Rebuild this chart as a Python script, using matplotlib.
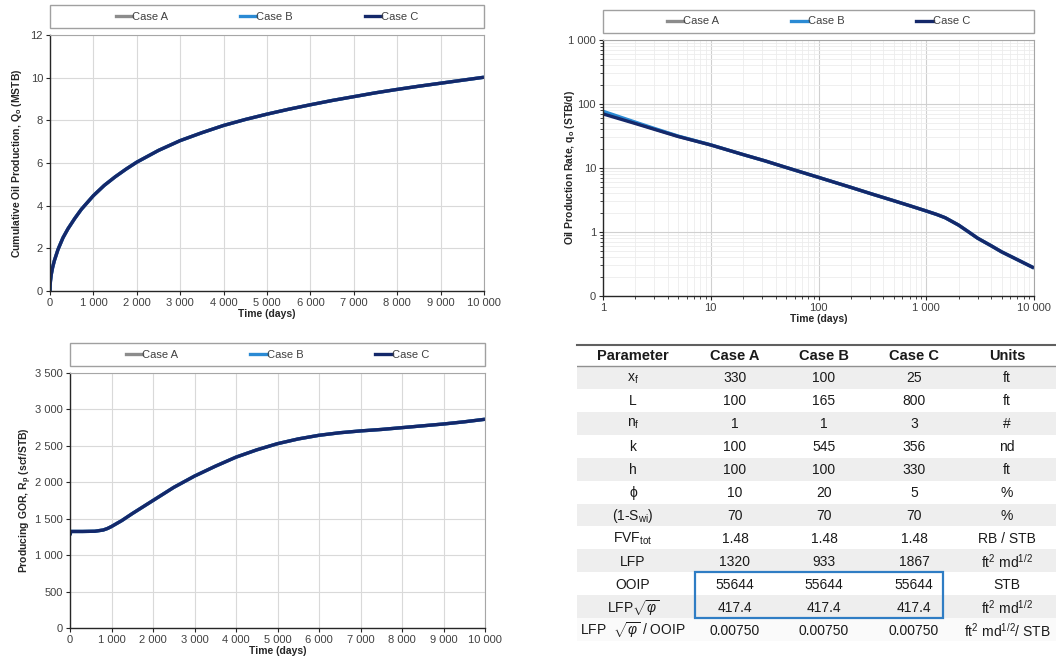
import matplotlib
matplotlib.use("Agg")
import matplotlib.pyplot as plt
import numpy as np
from matplotlib.patches import Rectangle
from matplotlib.ticker import FixedLocator, FuncFormatter, NullFormatter, LogLocator

plt.rcParams["font.family"] = ["Liberation Sans", "DejaVu Sans"]
plt.rcParams["mathtext.fontset"] = "custom"
plt.rcParams["mathtext.rm"] = "Liberation Sans"
plt.rcParams["mathtext.it"] = "Liberation Sans:italic"
plt.rcParams["mathtext.bf"] = "Liberation Sans:bold"

# ---- data ----
cases = ["Case A", "Case B", "Case C"]
case_colors = ["#8c8c8c", "#2a8ad4", "#14286a"]

# cumulative oil production (MSTB)
t_cum = [0, 3, 10, 30, 60, 100, 185, 300, 415, 570, 723, 1000, 1250, 1500, 1750, 2000,
         2500, 3000, 3500, 4000, 4500, 5000, 5500, 6000, 6500, 7000, 7500, 8000, 8500,
         9000, 9500, 10000]
q_cum_c = [0.0, 0.25, 0.45, 0.78, 1.1, 1.42, 1.95, 2.5, 2.92, 3.4, 3.83, 4.47, 4.95,
           5.35, 5.71, 6.04, 6.59, 7.05, 7.42, 7.76, 8.04, 8.29, 8.52, 8.73, 8.93, 9.11,
           9.29, 9.45, 9.60, 9.74, 9.88, 10.02]
q_cum_b = [0.0, 0.27, 0.46, 0.79, 1.1, 1.42, 1.95, 2.5, 2.92, 3.4, 3.83, 4.47, 4.95,
           5.35, 5.71, 6.04, 6.59, 7.05, 7.42, 7.76, 8.04, 8.29, 8.52, 8.73, 8.93, 9.11,
           9.29, 9.45, 9.60, 9.74, 9.88, 10.02]
q_cum_a = q_cum_c

# oil production rate (STB/d), log-log
t_rate = [1, 2, 3, 5, 10, 20, 32, 50, 100, 200, 312, 500, 700, 1000, 1250, 1500, 2000,
          2500, 3000, 4000, 5000, 7000, 10000]
q_rate_c = [70, 49.5, 40.2, 31.0, 22.9, 16.2, 12.9, 10.2, 7.14, 4.98, 3.93, 3.08, 2.58,
            2.13, 1.88, 1.67, 1.28, 0.99, 0.80, 0.61, 0.49, 0.37, 0.274]
q_rate_b = [77, 52, 41.5, 31.5, 23.0, 16.2, 12.9, 10.2, 7.14, 4.98, 3.93, 3.08, 2.58,
            2.13, 1.88, 1.67, 1.28, 0.99, 0.80, 0.61, 0.49, 0.37, 0.274]
q_rate_a = [73, 50.5, 40.8, 31.2, 22.9, 16.2, 12.9, 10.2, 7.14, 4.98, 3.93, 3.08, 2.58,
            2.13, 1.88, 1.67, 1.28, 0.99, 0.80, 0.61, 0.49, 0.37, 0.274]

# producing GOR (scf/STB)
t_gor = [0, 20, 300, 600, 800, 900, 1000, 1250, 1500, 1750, 2000, 2500, 3000, 3500, 4000,
         4500, 5000, 5500, 6000, 6500, 7000, 7500, 8000, 8500, 9000, 9500, 10000]
gor_c = [1275, 1325, 1325, 1328, 1345, 1365, 1393, 1475, 1570, 1660, 1750, 1930, 2085,
         2220, 2345, 2445, 2530, 2595, 2645, 2680, 2705, 2725, 2750, 2775, 2800, 2830, 2865]
gor_b = gor_c
gor_a = gor_c

# table
tbl_header = ["Parameter", "Case A", "Case B", "Case C", "Units"]
tbl_params = [r"x$_\mathrm{f}$", "L", r"n$_\mathrm{f}$", "k", "h", "\u03d5",
              r"(1-S$_\mathrm{wi}$)", r"FVF$_\mathrm{tot}$", "LFP", "OOIP",
              r"LFP$\sqrt{\varphi}$", r"LFP  $\sqrt{\varphi}$ / OOIP"]
tbl_case_a = ["330", "100", "1", "100", "100", "10", "70", "1.48", "1320", "55644", "417.4", "0.00750"]
tbl_case_b = ["100", "165", "1", "545", "100", "20", "70", "1.48", "933", "55644", "417.4", "0.00750"]
tbl_case_c = ["25", "800", "3", "356", "330", "5", "70", "1.48", "1867", "55644", "417.4", "0.00750"]
tbl_units = ["ft", "ft", "#", "nd", "ft", "%", "%", "RB / STB", r"ft$^2$ md$^{1/2}$", "STB",
             r"ft$^2$ md$^{1/2}$", r"ft$^2$ md$^{1/2}$/ STB"]

W, H = 1056, 663
fig = plt.figure(figsize=(W / 100, H / 100), dpi=100)


def add_px_axes(x0, x1, y0, y1):
    return fig.add_axes([x0 / W, 1 - y1 / H, (x1 - x0) / W, (y1 - y0) / H])


def space_thousands(v, pos=None):
    return f"{v:,.0f}".replace(",", " ")


def style_axes(ax):
    for s in ["top", "right"]:
        ax.spines[s].set_color("#a6a6a6")
        ax.spines[s].set_linewidth(0.8)
    for s in ["left", "bottom"]:
        ax.spines[s].set_color("#262626")
        ax.spines[s].set_linewidth(1.0)
    ax.tick_params(axis="both", which="major", labelsize=8, colors="#262626",
                   labelcolor="#404040", length=3, width=0.8, pad=2)
    ax.set_axisbelow(True)


def add_legend(ax, y0, y1):
    # frame spanning the axes width, above the plot area
    pos = ax.get_position()
    fx0 = pos.x0
    fw = pos.width
    fig.patches.append(Rectangle((fx0, 1 - y1 / H), fw, (y1 - y0) / H,
                                 transform=fig.transFigure, facecolor="white",
                                 edgecolor="#a0a0a0", linewidth=1.0))
    handles = [plt.Line2D([], [], color=c, lw=2.4) for c in case_colors]
    fig.legend(handles, cases, loc="center", ncol=3, frameon=False,
               bbox_to_anchor=(fx0 + fw * 0.5, 1 - (y0 + y1) / 2 / H),
               fontsize=8, handlelength=1.45, handletextpad=0.0,
               columnspacing=6.5, labelcolor="#404040")


def set_labels(ax, ylabel, ylab_x):
    ax.set_xlabel("Time (days)", fontsize=7.5, fontweight="bold", labelpad=1, color="#262626")
    ax.set_ylabel(ylabel, fontsize=7.5, fontweight="bold", color="#262626")
    ax.yaxis.set_label_coords(ylab_x, 0.5)


# ---- cumulative oil ----
ax1 = add_px_axes(50, 484, 35, 291)
style_axes(ax1)
for t, q, c in [(t_cum, q_cum_a, case_colors[0]), (t_cum, q_cum_b, case_colors[1]),
                (t_cum, q_cum_c, case_colors[2])]:
    ax1.plot(t, q, color=c, lw=2.4, solid_capstyle="butt")
ax1.set_xlim(0, 10000)
ax1.set_ylim(0, 12)
ax1.set_xticks(np.arange(0, 10001, 1000))
ax1.set_yticks(np.arange(0, 13, 2))
ax1.xaxis.set_major_formatter(FuncFormatter(space_thousands))
ax1.grid(True, color="#d9d9d9", lw=0.8)
set_labels(ax1, r"Cumulative Oil Production, Q$_\mathbf{o}$ (MSTB)", -0.06)
add_legend(ax1, 5, 28)

# ---- oil rate, log-log ----
ax2 = add_px_axes(603, 1034, 40, 296)
style_axes(ax2)
ax2.set_xscale("log")
ax2.set_yscale("log")
for t, q, c in [(t_rate, q_rate_a, case_colors[0]), (t_rate, q_rate_b, case_colors[1]),
                (t_rate, q_rate_c, case_colors[2])]:
    ax2.plot(t, q, color=c, lw=2.4, solid_capstyle="butt")
ax2.set_xlim(1, 10000)
ax2.set_ylim(0.1, 1000)
ax2.xaxis.set_major_locator(FixedLocator([1, 10, 100, 1000, 10000]))
ax2.yaxis.set_major_locator(FixedLocator([0.1, 1, 10, 100, 1000]))
ax2.xaxis.set_minor_locator(LogLocator(base=10, subs=np.arange(2, 10)))
ax2.yaxis.set_minor_locator(LogLocator(base=10, subs=np.arange(2, 10)))
ax2.xaxis.set_minor_formatter(NullFormatter())
ax2.yaxis.set_minor_formatter(NullFormatter())
ax2.xaxis.set_major_formatter(FuncFormatter(space_thousands))
ax2.yaxis.set_major_formatter(FuncFormatter(space_thousands))
ax2.tick_params(which="minor", length=2, width=0.6, colors="#262626")
ax2.grid(True, which="major", color="#d0d0d0", lw=0.8)
ax2.grid(True, which="minor", color="#ececec", lw=0.6)
set_labels(ax2, r"Oil Production Rate, q$_\mathbf{o}$ (STB/d)", -0.06)
add_legend(ax2, 10, 33)

# ---- producing GOR ----
ax3 = add_px_axes(70, 485, 373, 628)
style_axes(ax3)
for t, g, c in [(t_gor, gor_a, case_colors[0]), (t_gor, gor_b, case_colors[1]),
                (t_gor, gor_c, case_colors[2])]:
    ax3.plot(t, g, color=c, lw=2.4, solid_capstyle="butt")
ax3.set_xlim(0, 10000)
ax3.set_ylim(0, 3500)
ax3.set_xticks(np.arange(0, 10001, 1000))
ax3.set_yticks(np.arange(0, 3501, 500))
ax3.xaxis.set_major_formatter(FuncFormatter(space_thousands))
ax3.yaxis.set_major_formatter(FuncFormatter(space_thousands))
ax3.grid(True, color="#d9d9d9", lw=0.8)
set_labels(ax3, r"Producing GOR, R$_\mathbf{p}$ (scf/STB)", -0.087)
add_legend(ax3, 343, 366)

# ---- parameter table ----
tx0, tx1, ty0, ty1 = 577, 1056, 344, 641
axt = add_px_axes(tx0, tx1, ty0, ty1)
axt.set_xlim(tx0, tx1)
axt.set_ylim(ty1, ty0)
axt.axis("off")

col_x = [633, 735, 824, 914, 1007]
head_h = 22
row_h = (ty1 - ty0 - head_h) / len(tbl_params)

axt.plot([tx0, tx1], [ty0 + 0.5, ty0 + 0.5], color="#606060", lw=1.5, clip_on=False)
axt.plot([tx0, tx1], [ty0 + head_h, ty0 + head_h], color="#909090", lw=1.0)
for j, h in enumerate(tbl_header):
    axt.text(col_x[j], ty0 + head_h / 2 + 1, h, ha="center", va="center",
             fontsize=10.5, fontweight="bold", color="#1a1a1a")

columns = [tbl_params, tbl_case_a, tbl_case_b, tbl_case_c, tbl_units]
for i in range(len(tbl_params)):
    top = ty0 + head_h + i * row_h
    if i % 2 == 0:
        fc = "#eeeeee"
    else:
        fc = "white" if i < len(tbl_params) - 1 else "#fafafa"
    axt.add_patch(Rectangle((tx0, top), tx1 - tx0, row_h, facecolor=fc,
                            edgecolor="none", zorder=0))
    for j, col in enumerate(columns):
        axt.text(col_x[j], top + row_h / 2 + 1, col[i], ha="center", va="center",
                 fontsize=10, color="#1a1a1a")

# blue box around OOIP / LFP sqrt(phi) values
b_top = ty0 + head_h + 9 * row_h
axt.add_patch(Rectangle((695, b_top), 943 - 695, 2 * row_h, facecolor="none",
                        edgecolor="#2f7dc4", lw=1.6, zorder=3))

fig.savefig("out.png", dpi=100)
